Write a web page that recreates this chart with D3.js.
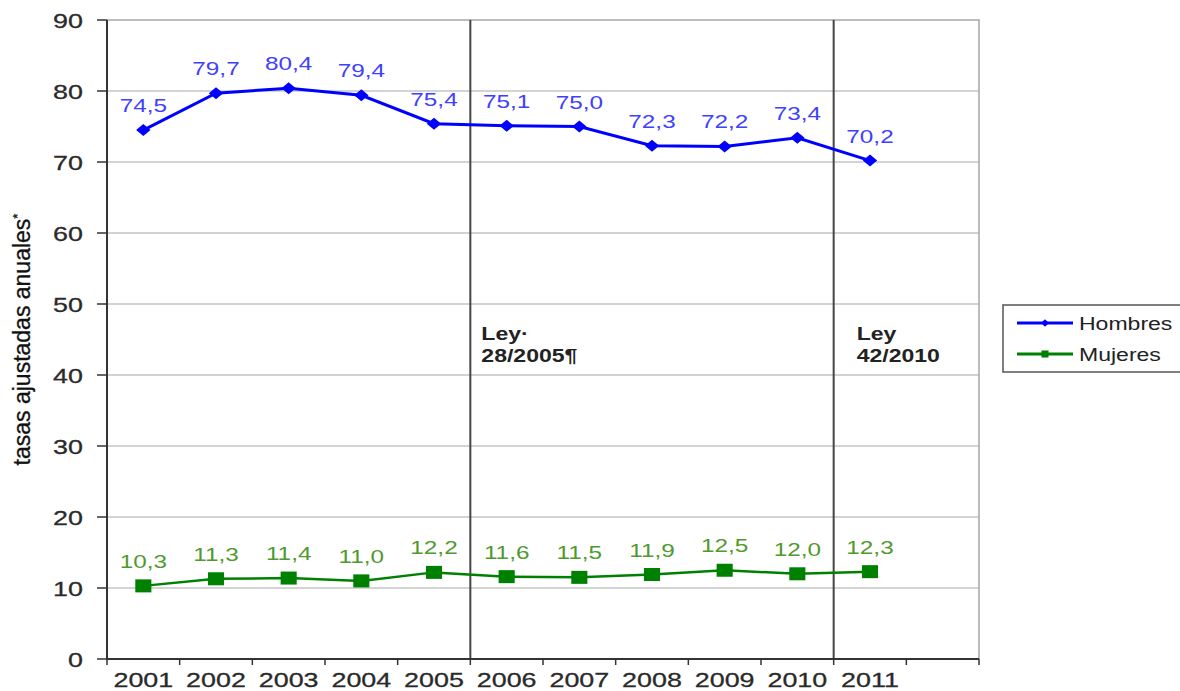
<!DOCTYPE html>
<html>
<head>
<meta charset="utf-8">
<script src="https://cdn.jsdelivr.net/npm/d3@7"></script>
<style>
  body { margin: 0; background: #fff; }
  text { font-family: "Liberation Sans", Arial, sans-serif; }
</style>
</head>
<body>
<div id="graph"></div>
<script>
var years = ["2001","2002","2003","2004","2005","2006","2007","2008","2009","2010","2011"];
var hombres = [74.5, 79.7, 80.4, 79.4, 75.4, 75.1, 75.0, 72.3, 72.2, 73.4, 70.2];
var mujeres = [10.3, 11.3, 11.4, 11.0, 12.2, 11.6, 11.5, 11.9, 12.5, 12.0, 12.3];
var yTicks = [0, 10, 20, 30, 40, 50, 60, 70, 80, 90];
var laws = [
  {after: "2005", lines: ["Ley·", "28/2005¶"]},
  {after: "2010", lines: ["Ley", "42/2010"]}
];
var seriesNames = ["Hombres", "Mujeres"];

var margin = {top: 20, right: 201, bottom: 32, left: 107},
    W = 1180, H = 691,
    width = W - margin.left - margin.right,
    height = H - margin.top - margin.bottom;

var sx = 1.28; // horizontal stretch of the lettering

var svg = d3.select("#graph").append("svg")
    .attr("width", W).attr("height", H);
var g = svg.append("g")
    .attr("transform", "translate(" + margin.left + "," + margin.top + ")");

// 12 slots, last one empty
var x = d3.scaleBand()
    .domain(years.concat(["_"]))
    .range([0, width])
    .paddingInner(0).paddingOuter(0);
var y = d3.scaleLinear().domain([0, 90]).range([height, 0]);
var cx = function(yr) { return x(yr) + x.bandwidth() / 2; };

// grid
g.selectAll(".grid").data(yTicks.filter(d => d > 0 && d < 90))
  .enter().append("line")
    .attr("x1", 0).attr("x2", width)
    .attr("y1", d => y(d)).attr("y2", d => y(d))
    .attr("stroke", "#c4c4c4").attr("stroke-width", 1.5);

// plot border (top / right)
g.append("path")
    .attr("d", "M0," + y(90) + "H" + width + "V" + height)
    .attr("fill", "none").attr("stroke", "#a6a6a6").attr("stroke-width", 1.5);

// law lines
var lawDx = [11, 23];
laws.forEach(function(l, k) {
  var xl = x(l.after) + x.bandwidth();
  g.append("line")
    .attr("x1", xl).attr("x2", xl).attr("y1", 0).attr("y2", height)
    .attr("stroke", "#444").attr("stroke-width", 2);
  l.lines.forEach(function(s, i) {
    g.append("text")
      .attr("transform", "translate(" + (xl + lawDx[k]) + "," + (y(45) + i * 22) + ") scale(" + sx + ",1)")
      .attr("font-size", 18).attr("font-weight", "bold").attr("fill", "#222")
      .text(s);
  });
});

// y axis
g.append("line").attr("x1", 0).attr("x2", 0).attr("y1", 0).attr("y2", height)
    .attr("stroke", "#333").attr("stroke-width", 2);
g.selectAll(".ytick").data(yTicks).enter().append("line")
    .attr("x1", -10).attr("x2", 0)
    .attr("y1", d => y(d)).attr("y2", d => y(d))
    .attr("stroke", "#333").attr("stroke-width", 1.5);
g.selectAll(".ylab").data(yTicks).enter().append("text")
    .attr("transform", d => "translate(-24," + (y(d) + 7.5) + ") scale(" + sx + ",1)")
    .attr("text-anchor", "end").attr("font-size", 21).attr("fill", "#2a2a2a")
    .attr("stroke", "#2a2a2a").attr("stroke-width", 0.3)
    .text(d => d);

// x axis
g.append("line").attr("x1", 0).attr("x2", width).attr("y1", height).attr("y2", height)
    .attr("stroke", "#333").attr("stroke-width", 2);
g.selectAll(".xtick").data(d3.range(x.domain().length + 1)).enter().append("line")
    .attr("x1", d => d * x.step()).attr("x2", d => d * x.step())
    .attr("y1", height).attr("y2", height + 6)
    .attr("stroke", "#333").attr("stroke-width", 1.5);
g.selectAll(".xlab").data(years).enter().append("text")
    .attr("transform", d => "translate(" + cx(d) + "," + (height + 28) + ") scale(" + sx + ",1)")
    .attr("text-anchor", "middle").attr("font-size", 21).attr("fill", "#2a2a2a")
    .attr("stroke", "#2a2a2a").attr("stroke-width", 0.3)
    .text(d => d);

// y title
svg.append("text")
    .attr("transform", "translate(30," + (margin.top + y(45)) + ") rotate(-90)")
    .attr("text-anchor", "middle").attr("font-size", 23).attr("fill", "#111")
    .attr("stroke", "#111").attr("stroke-width", 0.3)
    .text("tasas ajustadas anuales")
  .append("tspan").attr("dy", -8).attr("font-size", 13).text("*");

var line = d3.line().x(d => cx(d.year)).y(d => y(d.v));
var fmt = function(v) { return d3.format(".1f")(v).replace(".", ","); };

function drawSeries(vals, color, labelColor, shape, lw) {
  var data = years.map((yr, i) => ({year: yr, v: vals[i]}));
  g.append("path").datum(data)
    .attr("d", line).attr("fill", "none")
    .attr("stroke", color).attr("stroke-width", lw);
  var sym = shape === "diamond"
    ? d3.symbol().type(d3.symbolSquare).size(72)
    : d3.symbol().type(d3.symbolSquare).size(196);
  g.selectAll(null).data(data).enter().append("path")
    .attr("d", sym)
    .attr("transform", d => "translate(" + cx(d.year) + "," + y(d.v) + ")" +
      (shape === "diamond" ? " scale(1.2,1) rotate(45)" : " scale(1.15,0.93)"))
    .attr("fill", color);
  g.selectAll(null).data(data).enter().append("text")
    .attr("transform", d => "translate(" + cx(d.year) + "," + (y(d.v) - 18) + ") scale(" + sx + ",1)")
    .attr("text-anchor", "middle").attr("font-size", 19).attr("fill", labelColor)
    .text(d => fmt(d.v));
}
drawSeries(hombres, "#0000ff", "#4040ff", "diamond", 3);
drawSeries(mujeres, "#008000", "#4f9a2c", "square", 2.5);

// legend
var leg = svg.append("g").attr("transform", "translate(1003,305)");
leg.append("rect").attr("width", 190).attr("height", 67)
    .attr("fill", "#fff").attr("stroke", "#555").attr("stroke-width", 1.5);
var legColors = ["#0000ff", "#008000"];
seriesNames.forEach(function(n, i) {
  var ly = 18 + i * 31;
  leg.append("line").attr("x1", 14).attr("x2", 70).attr("y1", ly).attr("y2", ly)
    .attr("stroke", legColors[i]).attr("stroke-width", 3);
  leg.append("path")
    .attr("d", d3.symbol().type(d3.symbolSquare).size(i === 0 ? 30 : 50)())
    .attr("transform", "translate(42," + ly + ")" + (i === 0 ? " rotate(45)" : ""))
    .attr("fill", legColors[i]);
  leg.append("text")
    .attr("transform", "translate(76," + (ly + 7) + ") scale(" + sx + ",1)")
    .attr("font-size", 18).attr("fill", "#222").text(n);
});
</script>
</body>
</html>
